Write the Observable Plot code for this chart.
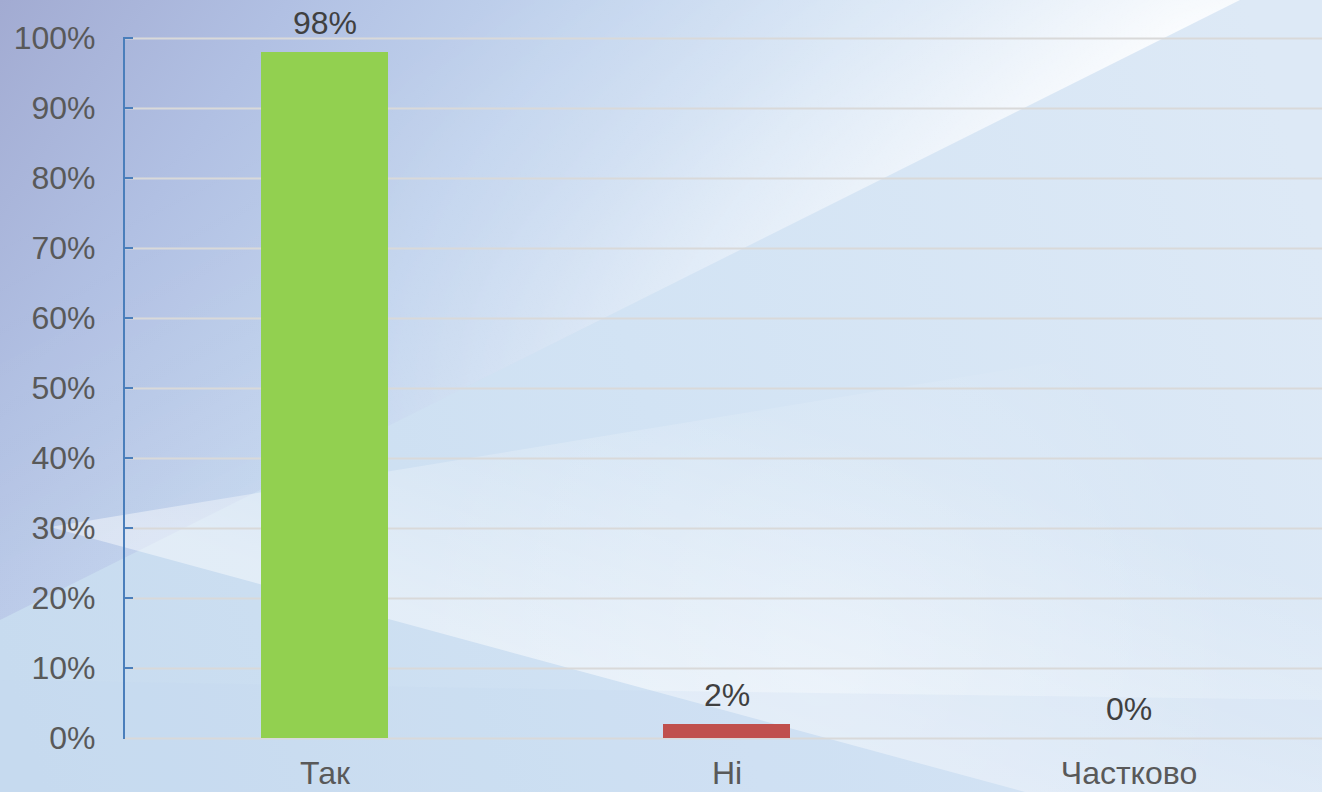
<!DOCTYPE html>
<html>
<head>
<meta charset="utf-8">
<script src="https://cdn.jsdelivr.net/npm/d3@7"></script>
<script src="https://cdn.jsdelivr.net/npm/@observablehq/plot@0.6"></script>
<style>
  html, body { margin: 0; padding: 0; }
  #wrap { position: relative; width: 1322px; height: 792px; overflow: hidden; }
  #bg { position: absolute; left: 0; top: 0; }
  #chart { position: absolute; left: 0; top: 0; }
</style>
</head>
<body>
<div id="wrap">
  <svg id="bg" width="1322" height="792" viewBox="0 0 1322 792">
    <defs>
      <linearGradient id="base" gradientUnits="userSpaceOnUse" x1="0" y1="0" x2="1322" y2="900">
        <stop offset="0" stop-color="#a2abd2"/>
        <stop offset="0.15" stop-color="#b1c0e3"/>
        <stop offset="0.3" stop-color="#c2d4ee"/>
        <stop offset="0.45" stop-color="#d2e2f4"/>
        <stop offset="0.65" stop-color="#dde9f6"/>
        <stop offset="1" stop-color="#e0eaf5"/>
      </linearGradient>
      <radialGradient id="hlfill" gradientUnits="userSpaceOnUse" cx="1180" cy="30" r="900">
        <stop offset="0" stop-color="#ffffff" stop-opacity="0.85"/>
        <stop offset="0.6" stop-color="#ffffff" stop-opacity="0.35"/>
        <stop offset="1" stop-color="#ffffff" stop-opacity="0.05"/>
      </radialGradient>
      <linearGradient id="hlmaskgrad" gradientUnits="userSpaceOnUse" x1="463" y1="-3" x2="620" y2="310">
        <stop offset="0" stop-color="#000000"/>
        <stop offset="0.6" stop-color="#777777"/>
        <stop offset="1" stop-color="#ffffff"/>
      </linearGradient>
      <mask id="hlmask" maskUnits="userSpaceOnUse" x="0" y="0" width="1322" height="792">
        <rect width="1322" height="792" fill="url(#hlmaskgrad)"/>
      </mask>
      <linearGradient id="below" gradientUnits="userSpaceOnUse" x1="0" y1="650" x2="1322" y2="250">
        <stop offset="0" stop-color="#c7dbef"/>
        <stop offset="0.5" stop-color="#d2e3f4"/>
        <stop offset="1" stop-color="#dde9f6"/>
      </linearGradient>
      <linearGradient id="wedge" gradientUnits="userSpaceOnUse" x1="700" y1="704" x2="790" y2="415">
        <stop offset="0" stop-color="#ffffff" stop-opacity="0.45"/>
        <stop offset="1" stop-color="#ffffff" stop-opacity="0"/>
      </linearGradient>
      <radialGradient id="glow" gradientUnits="userSpaceOnUse" cx="820" cy="680" r="420">
        <stop offset="0" stop-color="#ffffff" stop-opacity="0.3"/>
        <stop offset="1" stop-color="#ffffff" stop-opacity="0"/>
      </radialGradient>
    </defs>
    <rect width="1322" height="792" fill="url(#base)"/>
    <polygon points="1240,0 1322,0 1322,792 0,792 0,620" fill="url(#below)"/>
    <polygon points="0,0 1240,0 0,620" fill="url(#hlfill)" mask="url(#hlmask)"/>
    <polygon points="50,527 1322,318 1322,792 1025,792" fill="url(#wedge)"/>
    <polygon points="50,527 1322,318 1322,792 1025,792" fill="url(#glow)"/>
    <polygon points="0,680 600,690 1322,700 1322,792 0,792" fill="#c4d9ee" opacity="0.2"/>
  </svg>
  <div id="chart"></div>
</div>
<script>
// ---- data ----
const categories = ["Так", "Ні", "Частково"];
const values = [0.98, 0.02, 0];
const barColors = ["#92d050", "#c0504d", "#4f81bd"];
const yTicks = [0, 0.1, 0.2, 0.3, 0.4, 0.5, 0.6, 0.7, 0.8, 0.9, 1];

const data = categories.map((c, i) => ({cat: c, value: values[i], color: barColors[i]}));
const pct = d3.format(".0%");

const axisLine = (index, scales, vals, dimensions) => {
  const g = d3.create("svg:g");
  const x0 = dimensions.marginLeft;
  g.append("line")
    .attr("x1", x0).attr("x2", x0)
    .attr("y1", scales.y(1) - 1).attr("y2", scales.y(0) + 1)
    .attr("stroke", "#4a7ebb").attr("stroke-width", 2);
  for (const t of yTicks) {
    if (t === 0) continue;
    g.append("line")
      .attr("x1", x0).attr("x2", x0 + 9)
      .attr("y1", scales.y(t)).attr("y2", scales.y(t))
      .attr("stroke", "#4a7ebb").attr("stroke-width", 2);
  }
  return g.node();
};

const chart = Plot.plot({
  width: 1322,
  height: 792,
  marginLeft: 124,
  marginRight: 0,
  marginTop: 38,
  marginBottom: 54,
  style: {background: "transparent", fontFamily: "'Liberation Sans', Arial, sans-serif", fontSize: "32px", color: "#595959"},
  x: {domain: categories, range: [124, 1330], paddingInner: 0.683, paddingOuter: 0.3415, label: null},
  y: {domain: [0, 1], label: null},
  marks: [
    Plot.gridY(yTicks, {stroke: "#d9d9d9", strokeOpacity: 1, strokeWidth: 2}),
    Plot.axisY(yTicks, {tickFormat: pct, tickSize: 0, tickPadding: 29, fill: "#595959", fontSize: 32, label: null}),
    Plot.axisX({tickSize: 0, tickPadding: 23, fill: "#595959", fontSize: 32, label: null}),
    Plot.barY(data, {x: "cat", y: "value", fill: "color"}),
    Plot.text(data, {x: "cat", y: "value", text: d => pct(d.value), lineAnchor: "bottom", dy: -19, fill: "#404040", fontSize: 32}),
    axisLine
  ]
});
document.getElementById("chart").appendChild(chart);
</script>
</body>
</html>
